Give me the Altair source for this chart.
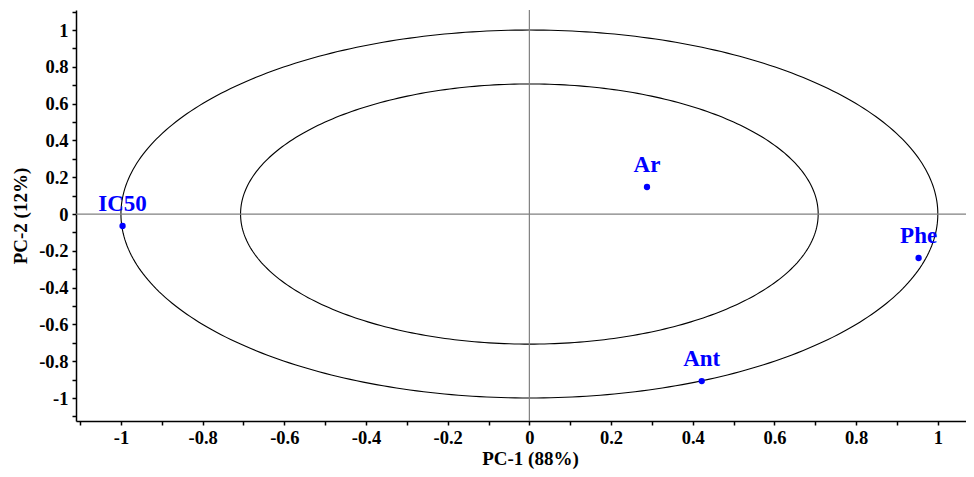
import altair as alt
import numpy as np
import pandas as pd

# Loadings
names = ["IC50", "Ar", "Phe", "Ant"]
pc1 = [-0.996, 0.288, 0.953, 0.422]
pc2 = [-0.065, 0.147, -0.239, -0.908]

# Correlation circles (radius 1 and sqrt(0.5))
radii = [1.0, 0.7071]

x_ticks = [-1.1, -1.0, -0.9, -0.8, -0.7, -0.6, -0.5, -0.4, -0.3, -0.2, -0.1,
           0.0, 0.1, 0.2, 0.3, 0.4, 0.5, 0.6, 0.7, 0.8, 0.9, 1.0]
y_ticks = [-1.1, -1.0, -0.9, -0.8, -0.7, -0.6, -0.5, -0.4, -0.3, -0.2, -0.1,
           0.0, 0.1, 0.2, 0.3, 0.4, 0.5, 0.6, 0.7, 0.8, 0.9, 1.0, 1.1]

FONT = "Liberation Serif"

pts = pd.DataFrame({"name": names, "pc1": pc1, "pc2": pc2})

theta = np.linspace(0, 2 * np.pi, 361)
circ_rows = []
for r in radii:
    for i, t in enumerate(theta):
        circ_rows.append({"r": str(r), "i": i, "cx": r * np.cos(t), "cy": r * np.sin(t)})
circ = pd.DataFrame(circ_rows)

label_expr = "round(datum.value*10) % 2 == 0 ? toString(round(datum.value*10)/10) : ''"

xscale = alt.Scale(domain=[-1.11, 1.069], nice=False, zero=False)
yscale = alt.Scale(domain=[-1.125, 1.109], nice=False, zero=False)

common = dict(grid=False, domainColor="black", domainWidth=1.5, tickColor="black",
              tickSize=4, tickWidth=1.5, labelFont=FONT, labelFontSize=18.5, labelFontWeight="bold",
              labelColor="black", titleFont=FONT, titleFontSize=19, titleFontWeight="bold",
              titleColor="black", labelFlush=False, labelOverlap=False, tickCount=40)

xaxis = alt.Axis(values=x_ticks, labelExpr=label_expr, title="PC-1 (88%)",
                 labelPadding=3, titlePadding=3, titleX=454, **common)
yaxis = alt.Axis(values=y_ticks, labelExpr=label_expr, title="PC-2 (12%)",
                 labelPadding=4, titlePadding=8, **common)

circles = alt.Chart(circ).mark_line(color="black", strokeWidth=1.1).encode(
    x=alt.X("cx:Q", scale=xscale, axis=xaxis),
    y=alt.Y("cy:Q", scale=yscale, axis=yaxis),
    detail="r:N",
    order="i:Q",
)

vline = alt.Chart(pd.DataFrame({"v": [0.0]})).mark_rule(color="#808080", strokeWidth=1.2).encode(
    x=alt.X("v:Q", scale=xscale, axis=xaxis)
)
hline = alt.Chart(pd.DataFrame({"v": [0.0]})).mark_rule(color="#808080", strokeWidth=1.2).encode(
    y=alt.Y("v:Q", scale=yscale, axis=yaxis)
)

points = alt.Chart(pts).mark_circle(color="#0000FF", size=40, opacity=1).encode(
    x=alt.X("pc1:Q", scale=xscale, axis=xaxis),
    y=alt.Y("pc2:Q", scale=yscale, axis=yaxis),
)
labels = alt.Chart(pts).mark_text(color="#0000FF", font=FONT, fontSize=23, fontWeight="bold",
                                  baseline="alphabetic", align="center", dy=-15).encode(
    x=alt.X("pc1:Q", scale=xscale, axis=xaxis),
    y=alt.Y("pc2:Q", scale=yscale, axis=yaxis),
    text="name:N",
)

chart = alt.layer(circles, vline, hline, points, labels).properties(
    width=890, height=411,
    background="white",
    autosize=alt.AutoSizeParams(type="none"),
    padding={"left": 68, "top": 2, "right": 0, "bottom": 48},
).configure_view(stroke=None)

chart.save("out.html", embed_options={"renderer": "svg", "actions": False})
